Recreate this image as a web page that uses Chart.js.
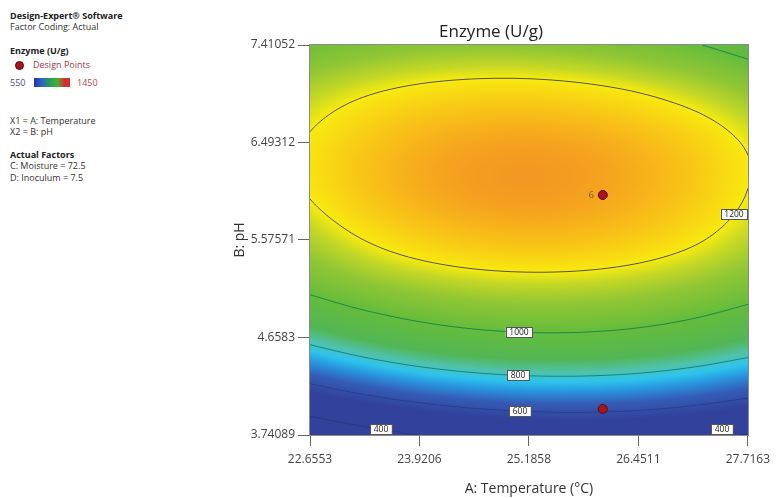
<!DOCTYPE html>
<html>
<head>
<meta charset="utf-8">
<script src="https://cdn.jsdelivr.net/npm/chart.js@4.4.1/dist/chart.umd.min.js"></script>
<style>
html, body { margin: 0; padding: 0; background: #fff; overflow: hidden; }
#wrap { position: relative; width: 776px; height: 498px; }
#chart { position: absolute; left: 0; top: 0; }
.side { position: absolute; left: 10px; font-family: 'Open Sans', sans-serif; font-size: 9px; color: #333; white-space: nowrap; line-height: 12px; }
.side b { font-weight: 700; color: #222; }
#dot { position: absolute; left: 15px; top: 61px; width: 9px; height: 9px; border-radius: 50%; background: #a8141c; border: 1px solid #5a0a0a; box-sizing: border-box; }
#bar { position: absolute; left: 34px; top: 78px; width: 36px; height: 9px;
  background: linear-gradient(to right, #2232a8 0%, #2a62c8 20%, #2aa64a 48%, #4aac36 66%, #d23030 84%, #d23030 100%); }
</style>
</head>
<body>
<div id="wrap">
  <div class="side" style="top:10px"><b>Design-Expert® Software</b></div>
  <div class="side" style="top:21px">Factor Coding: Actual</div>
  <div class="side" style="top:45px"><b>Enzyme (U/g)</b></div>
  <div id="dot"></div>
  <div class="side" style="top:59px; left:33px; color:#9a3848">Design Points</div>
  <div class="side" style="top:77px; color:#4a4a98">550</div>
  <div id="bar"></div>
  <div class="side" style="top:77px; left:77px; color:#b84848">1450</div>
  <div class="side" style="top:115px">X1 = A: Temperature</div>
  <div class="side" style="top:126px">X2 = B: pH</div>
  <div class="side" style="top:149px"><b>Actual Factors</b></div>
  <div class="side" style="top:160px">C: Moisture = 72.5</div>
  <div class="side" style="top:172px">D: Inoculum = 7.5</div>
  <canvas id="chart" width="776" height="498"></canvas>
</div>
<script>
// axis ticks
const tempTicks = [22.6553, 23.9206, 25.1858, 26.4511, 27.7163];
const phTicks = [3.74089, 4.6583, 5.57571, 6.49312, 7.41052];

// response surface: rows = pH (low to high), columns = temperature
const tempGrid = [22.6553, 23.2879, 23.9206, 24.5532, 25.1858, 25.8185, 26.4511, 27.0837, 27.7163];
const phGrid = [3.74089, 4.1996, 4.6583, 5.1170, 5.57571, 6.0344, 6.49312, 6.9518, 7.41052];
const enzymeGrid = [
  [280, 348, 401, 438, 460, 467, 458, 434, 395],
  [586, 648, 696, 728, 745, 747, 734, 705, 662],
  [833, 892, 937, 966, 980, 979, 963, 931, 885],
  [1019, 1073, 1112, 1137, 1147, 1143, 1125, 1092, 1045],
  [1135, 1201, 1249, 1278, 1289, 1282, 1256, 1212, 1150],
  [1207, 1273, 1320, 1347, 1356, 1345, 1316, 1267, 1199],
  [1208, 1267, 1309, 1333, 1340, 1329, 1301, 1255, 1191],
  [1148, 1194, 1225, 1241, 1243, 1230, 1203, 1161, 1104],
  [1025, 1060, 1083, 1093, 1090, 1075, 1048, 1008, 955]
];
const contourLevels = [400, 600, 800, 1000, 1200];

// design points
const designTemp = [26.04, 26.04];
const designPh = [5.999, 3.986];
const designText = ['6', ''];

// where the contour labels sit (temperature, pH)
const labelTemp = [23.48, 25.08, 25.06, 25.07, 27.556, 27.42];
const labelPh = [3.854, 4.033, 4.353, 4.767, 5.849, 3.797];
const labelText = ['400', '600', '800', '1000', '1200', '400'];

const lineColors = {400: '#2a3a82', 600: '#2b3d8c', 800: '#15877c', 1000: '#1a8a4c', 1200: '#55553c'};
const colorStops = [
  [550, [50, 65, 155]], [650, [52, 92, 182]], [720, [40, 150, 222]], [770, [45, 195, 238]],
  [820, [80, 194, 172]], [880, [82, 182, 86]], [1000, [100, 188, 60]], [1100, [145, 198, 52]],
  [1160, [195, 215, 38]], [1200, [248, 234, 15]], [1300, [248, 185, 25]], [1400, [240, 130, 40]],
  [1450, [225, 40, 35]]
];

function colorFor(v) {
  if (v <= colorStops[0][0]) return colorStops[0][1];
  for (let i = 1; i < colorStops.length; i++) {
    if (v <= colorStops[i][0]) {
      const a = colorStops[i - 1], b = colorStops[i];
      const t = (v - a[0]) / (b[0] - a[0]);
      return [0, 1, 2].map(k => a[1][k] + (b[1][k] - a[1][k]) * t);
    }
  }
  return colorStops[colorStops.length - 1][1];
}

const nx = tempGrid.length, ny = phGrid.length;
function g(r, c) {
  if (r < 0) return 2 * g(0, c) - g(1, c);
  if (r >= ny) return 2 * g(ny - 1, c) - g(ny - 2, c);
  if (c < 0) return 2 * g(r, 0) - g(r, 1);
  if (c >= nx) return 2 * g(r, nx - 1) - g(r, nx - 2);
  return enzymeGrid[r][c];
}
function cr(p0, p1, p2, p3, t) {
  return p1 + 0.5 * t * (p2 - p0 + t * (2 * p0 - 5 * p1 + 4 * p2 - p3 + t * (3 * (p1 - p2) + p3 - p0)));
}
function surface(T, ph) {
  const fx = (T - tempGrid[0]) / (tempGrid[1] - tempGrid[0]);
  const fy = (ph - phGrid[0]) / (phGrid[1] - phGrid[0]);
  const i = Math.min(Math.max(Math.floor(fx), 0), nx - 2), tx = fx - i;
  const j = Math.min(Math.max(Math.floor(fy), 0), ny - 2), ty = fy - j;
  const rows = [];
  for (let m = -1; m <= 2; m++) {
    rows.push(cr(g(j + m, i - 1), g(j + m, i), g(j + m, i + 1), g(j + m, i + 2), tx));
  }
  return cr(rows[0], rows[1], rows[2], rows[3], ty);
}

function contour(ctx, field, w, h, step, left, top, level) {
  const W = w + 1;
  ctx.beginPath();
  for (let py = 0; py < h; py += step) {
    const py2 = Math.min(py + step, h);
    for (let px = 0; px < w; px += step) {
      const px2 = Math.min(px + step, w);
      const a = field[py * W + px] - level, b = field[py * W + px2] - level;
      const c = field[py2 * W + px2] - level, d = field[py2 * W + px] - level;
      const pts = [];
      if ((a < 0) !== (b < 0)) pts.push([px + (px2 - px) * a / (a - b), py]);
      if ((b < 0) !== (c < 0)) pts.push([px2, py + (py2 - py) * b / (b - c)]);
      if ((c < 0) !== (d < 0)) pts.push([px2 - (px2 - px) * c / (c - d), py2]);
      if ((d < 0) !== (a < 0)) pts.push([px, py2 - (py2 - py) * d / (d - a)]);
      for (let k = 0; k + 1 < pts.length; k += 2) {
        ctx.moveTo(left + pts[k][0], top + pts[k][1]);
        ctx.lineTo(left + pts[k + 1][0], top + pts[k + 1][1]);
      }
    }
  }
  ctx.stroke();
}

const surfacePlugin = {
  id: 'surface',
  beforeDatasetsDraw(chart) {
    const {ctx, chartArea: a, scales: {x, y}} = chart;
    const left = Math.round(a.left), top = Math.round(a.top);
    const w = Math.round(a.right) - left, h = Math.round(a.bottom) - top;
    const W = w + 1;
    const field = new Float32Array(W * (h + 1));
    for (let py = 0; py <= h; py++) {
      const ph = y.getValueForPixel(top + py);
      for (let px = 0; px <= w; px++) {
        field[py * W + px] = surface(x.getValueForPixel(left + px), ph);
      }
    }
    const off = document.createElement('canvas');
    off.width = w; off.height = h;
    const octx = off.getContext('2d');
    const img = octx.createImageData(w, h);
    for (let py = 0; py < h; py++) {
      for (let px = 0; px < w; px++) {
        const v = (field[py * W + px] + field[py * W + px + 1] + field[(py + 1) * W + px] + field[(py + 1) * W + px + 1]) / 4;
        const col = colorFor(v);
        const o = (py * w + px) * 4;
        img.data[o] = col[0]; img.data[o + 1] = col[1]; img.data[o + 2] = col[2]; img.data[o + 3] = 255;
      }
    }
    octx.putImageData(img, 0, 0);
    ctx.save();
    ctx.drawImage(off, left, top);

    ctx.beginPath();
    ctx.rect(left, top, w, h);
    ctx.clip();
    ctx.lineWidth = 1;
    contourLevels.forEach(level => {
      ctx.strokeStyle = lineColors[level];
      contour(ctx, field, w, h, 2, left, top, level);
    });

    // contour labels, snapped onto their line
    ctx.font = '8.5px "Open Sans", sans-serif';
    ctx.textAlign = 'center';
    ctx.textBaseline = 'middle';
    labelText.forEach((txt, i) => {
      const level = +txt;
      const px = Math.round(x.getPixelForValue(labelTemp[i])) - left;
      let py = y.getPixelForValue(labelPh[i]) - top;
      const p0 = Math.round(py);
      for (let d = 0; d < 14; d++) {
        let hit = false;
        for (const s of [p0 + d, p0 - d]) {
          if (s < 0 || s >= h) continue;
          const f1 = field[s * W + px] - level, f2 = field[(s + 1) * W + px] - level;
          if ((f1 < 0) !== (f2 < 0)) { py = s + f1 / (f1 - f2); hit = true; break; }
        }
        if (hit) break;
      }
      const bw = ctx.measureText(txt).width + 7, bh = 10;
      const cx = left + px, cy = top + py;
      ctx.fillStyle = '#fff';
      ctx.fillRect(cx - bw / 2, cy - bh / 2, bw, bh);
      ctx.strokeStyle = '#555';
      ctx.strokeRect(Math.round(cx - bw / 2) + 0.5, Math.round(cy - bh / 2) + 0.5, Math.round(bw), bh);
      ctx.fillStyle = '#222';
      ctx.fillText(txt, cx, cy + 0.5);
    });
    ctx.restore();
  },
  afterDatasetsDraw(chart) {
    const {ctx, chartArea: a, scales: {x, y}} = chart;
    ctx.save();
    ctx.strokeStyle = '#8c8c8c';
    ctx.lineWidth = 1;
    ctx.strokeRect(Math.round(a.left) - 0.5, Math.round(a.top) - 0.5, Math.round(a.right - a.left) + 1, Math.round(a.bottom - a.top) + 1);
    ctx.font = '9px "Open Sans", sans-serif';
    ctx.fillStyle = '#6a5a48';
    ctx.textAlign = 'right';
    ctx.textBaseline = 'middle';
    designText.forEach((t, i) => {
      if (t) ctx.fillText(t, x.getPixelForValue(designTemp[i]) - 9, y.getPixelForValue(designPh[i]));
    });
    ctx.restore();
  }
};

new Chart(document.getElementById('chart'), {
  type: 'scatter',
  data: {
    datasets: [{
      label: 'Design Points',
      data: designTemp.map((t, i) => ({x: t, y: designPh[i]})),
      backgroundColor: '#a8141c',
      borderColor: '#5a0a0a',
      borderWidth: 1,
      pointRadius: 4.5,
      clip: false
    }]
  },
  options: {
    responsive: false,
    animation: false,
    layout: {padding: {left: 230, right: 24, top: 0, bottom: 0}},
    plugins: {
      legend: {display: false},
      tooltip: {enabled: false},
      title: {
        display: true,
        text: 'Enzyme (U/g)',
        color: '#222',
        font: {family: 'Open Sans', size: 17, weight: 'normal'},
        padding: {top: 21.8, bottom: 2.8}
      }
    },
    scales: {
      x: {
        type: 'linear',
        min: tempTicks[0],
        max: tempTicks[tempTicks.length - 1],
        afterBuildTicks: s => { s.ticks = tempTicks.map(v => ({value: v})); },
        afterFit: s => { s.height = 63; },
        ticks: {
          callback: (v, i) => String(tempTicks[i]),
          color: '#444',
          padding: 6,
          maxRotation: 0,
          font: {family: 'Open Sans', size: 12}
        },
        grid: {drawOnChartArea: false, drawTicks: true, tickLength: 11, color: '#666'},
        border: {display: false},
        title: {
          display: true,
          text: 'A: Temperature (°C)',
          color: '#333',
          font: {family: 'Open Sans', size: 14},
          padding: {top: 4, bottom: 1}
        }
      },
      y: {
        type: 'linear',
        min: phTicks[0],
        max: phTicks[phTicks.length - 1],
        afterBuildTicks: s => { s.ticks = phTicks.map(v => ({value: v})); },
        afterFit: s => { s.width = 80; },
        ticks: {
          callback: (v, i) => String(phTicks[i]),
          color: '#444',
          padding: 3,
          font: {family: 'Open Sans', size: 12}
        },
        grid: {drawOnChartArea: false, drawTicks: true, tickLength: 12, color: '#666'},
        border: {display: false},
        title: {
          display: true,
          text: 'B: pH',
          color: '#333',
          font: {family: 'Open Sans', size: 14},
          padding: {top: 1.6, bottom: 0}
        }
      }
    }
  },
  plugins: [surfacePlugin]
});
</script>
</body>
</html>
